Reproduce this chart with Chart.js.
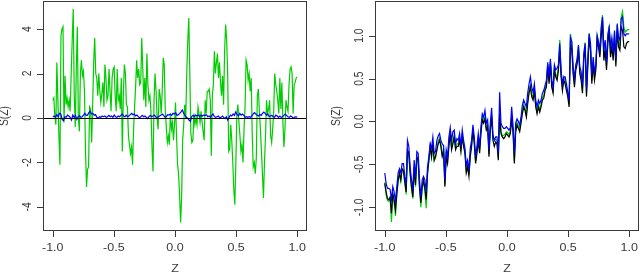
<!DOCTYPE html>
<html>
<head>
<meta charset="utf-8">
<script src="https://cdn.jsdelivr.net/npm/chart.js@4.4.0/dist/chart.umd.min.js"></script>
<style>
  html, body { margin: 0; padding: 0; background: #fff; }
  #wrap { position: relative; width: 640px; height: 273px; }
  canvas { position: absolute; top: 0; }
  #left { left: 0; }
  #right { left: 320px; }
</style>
</head>
<body>
<div id="wrap">
  <canvas id="left" width="320" height="273"></canvas>
  <canvas id="right" width="320" height="273"></canvas>
</div>
<script>
// tick labels
const xTicks = [-1.0, -0.5, 0.0, 0.5, 1.0];
const leftYTicks = [-4, -2, 0, 2, 4];
const rightYTicks = [-1.0, -0.5, 0.0, 0.5, 1.0];

// left panel: S(Z) on an even grid of Z from -1 to 1
const leftGreen = [
  0.8, 0.9, 0.1, -0.3, 2.5, 0.8, -0.8, -2.1, 3.7, 4.0,
  4.1, -0.2, 1.9, 0.6, 0.9, 0.5, 0.8, 0.3, 2.0, 3.5,
  4.9, 1.0, -0.4, 2.2, 4.1, 0.0, -0.6, 2.0, 2.6, 1.9,
  2.1, 1.2, -1.5, -3.1, -2.3, -2.2, 0.5, 0.4, -1.1, 0.6,
  2.5, 3.6, 2.0, 1.8, 1.0, 2.0, 1.2, 0.7, 1.1, 1.6,
  0.5, 2.4, 1.8, 0.8, 1.0, 2.2, 1.2, 0.3, 1.8, 2.2,
  2.3, 1.0, 0.3, 2.2, 0.8, 1.0, 0.4, 1.8, -1.5, 1.1,
  2.4, 2.0, 0.6, 0.5, -0.8, -1.2, -1.6, -1.3, -2.1, -0.5,
  0.5, 1.4, 2.6, 1.8, 2.2, 1.5, 1.6, 3.6, 2.2, 0.8,
  1.8, 0.5, 2.9, 1.5, 0.8, 1.0, 0.3, -1.3, -2.4, 0.8,
  2.0, 1.2, 0.0, -0.5, 1.3, 1.0, 0.2, 1.2, 2.7, 2.4,
  0.3, -0.4, -1.1, -0.8, -1.2, 0.2, -0.5, -0.2, -1.0, -0.3,
  0.7, -0.8, -2.1, -2.5, -3.5, -4.7, -3.5, -1.0, -0.3, 0.6,
  0.0, 2.0, 3.5, 4.5, 2.0, -0.7, -1.1, -1.0, 0.2, -0.3,
  0.0, -0.3, 0.5, 0.2, -0.2, 0.3, -0.2, -0.6, -1.0, 0.8,
  0.2, 1.2, 1.2, 1.3, 0.8, -1.7, 1.0, 1.5, 3.0, 2.0,
  2.5, 2.9, 1.8, 2.5, 1.6, 1.0, 1.9, 0.6, 3.0, 4.2,
  3.5, 2.0, -1.5, -1.4, -0.3, -1.0, -2.0, -3.2, -3.9, -2.0,
  0.2, 0.6, -0.2, -0.8, -1.5, -1.2, -2.0, -0.5, 0.5, 2.6,
  2.4, 1.7, 2.0, 1.2, 1.8, -0.7, -2.2, -2.0, -2.5, -1.8,
  1.0, 1.3, 0.3, -0.5, -1.5, -2.5, -3.6, -2.0, -0.8, 0.8,
  0.2, 0.4, 0.8, -0.8, -1.1, -0.5, 0.3, 2.0, 1.5, 1.2,
  0.8, 0.2, 1.8, 0.4, 1.6, -0.2, -1.3, -0.5, 0.8, 0.5,
  0.3, 1.5, 2.2, 2.3, 2.0, 0.2, 1.5, 1.6, 1.8, 1.85
];
const leftBlue = [
  0.06, 0.09, 0.03, 0.15, 0.06, 0.21, 0.18, -0.06, -0.12, 0.06,
  0.03, 0.13, 0.09, 0.03, -0.09, 0.13, 0.03, 0.12, -0.06, 0.06,
  0.10, 0.03, 0.06, 0.13, 0.21, 0.12, 0.13, 0.24, 0.30, 0.18,
  0.21, 0.12, 0.15, 0.03, -0.01, 0.06, 0.03, 0.09, 0.06, 0.09,
  0.03, 0.06, 0.12, 0.06, 0.09, 0.03, 0.13, 0.06, 0.03, 0.09,
  0.06, 0.12, 0.18, 0.09, 0.06, 0.13, 0.06, 0.09, 0.15, 0.21,
  0.15, 0.18, 0.09, 0.13, 0.06, 0.00, 0.06, 0.12, 0.06, 0.09,
  0.03, -0.03, 0.06, 0.12, 0.06, 0.09, 0.13, 0.06, -0.01, 0.06,
  0.09, 0.13, 0.18, 0.12, 0.03, 0.06, 0.15, 0.13, 0.18, 0.12,
  0.21, 0.18, 0.24, 0.12, 0.15, 0.21, 0.28, 0.36, 0.21, 0.12,
  0.03, -0.01, -0.09, -0.15, 0.06, 0.12, 0.06, 0.13, 0.10, 0.13,
  0.06, 0.12, 0.09, 0.13, 0.12, 0.15, 0.06, 0.09, 0.03, 0.12,
  0.18, 0.06, 0.03, 0.06, 0.09, 0.00, 0.03, 0.09, 0.03, -0.03,
  0.06, -0.09, 0.03, 0.13, 0.09, 0.18, 0.12, 0.27, 0.15, 0.09,
  0.21, 0.13, 0.18, 0.12, 0.03, 0.06, 0.03, 0.06, 0.03, 0.09,
  0.18, 0.24, 0.18, 0.12, 0.09, 0.16, 0.12, 0.21, 0.27, 0.21,
  0.13, 0.18, 0.06, 0.09, 0.12, 0.06, 0.03, 0.13, 0.09, 0.03,
  0.09, 0.03, 0.06, 0.12, 0.18, 0.12, 0.06, 0.03, 0.09, 0.06,
  -0.01, 0.03, 0.06, 0.03
];

// right panel: three estimates of S(Z)
const rightBlack = [
  -0.72, -0.82, -0.90, -0.91, -0.88, -1.07, -0.84, -0.91, -1.03, -0.84,
  -0.68, -0.60, -0.68, -0.55, -0.57, -0.70, -0.82, -0.33, -0.37, -0.60,
  -0.76, -0.88, -0.53, -0.74, -0.41, -0.45, -0.76, -0.95, -0.76, -0.68,
  -0.78, -0.91, -0.60, -0.45, -0.29, -0.41, -0.26, -0.45, -0.41, -0.33,
  -0.26, -0.22, -0.29, -0.41, -0.35, -0.76, -0.41, -0.49, -0.29, -0.14,
  -0.33, -0.26, -0.18, -0.33, -0.29, -0.29, -0.22, -0.35, -0.18, -0.29,
  -0.37, -0.60, -0.53, -0.64, -0.41, -0.29, -0.10, -0.26, -0.49, -0.37,
  -0.22, -0.37, -0.14, 0.02, -0.02, 0.03, -0.10, -0.06, -0.41, -0.10,
  0.05, -0.22, -0.29, -0.24, -0.26, -0.45, 0.09, -0.14, -0.18, -0.20,
  -0.18, -0.14, -0.16, -0.18, -0.14, 0.02, -0.12, -0.49, -0.12, -0.04,
  -0.08, -0.12, -0.02, 0.09, 0.17, 0.13, 0.05, 0.21, 0.33, 0.40,
  0.29, 0.25, 0.36, 0.17, 0.09, 0.17, 0.11, 0.17, 0.25, 0.27,
  0.36, 0.40, 0.64, 0.44, 0.67, 0.40, 0.33, 0.60, 0.52, 0.48,
  0.60, 0.83, 0.52, 0.36, 0.48, 0.44, 0.36, 0.29, 0.17, 0.91,
  0.83, 0.56, 0.40, 0.60, 0.67, 0.83, 0.56, 0.48, 0.33, 0.73,
  0.87, 0.29, 0.64, 0.98, 0.83, 0.44, 0.67, 0.48, 0.60, 0.95,
  0.87, 0.75, 0.98, 1.18, 0.71, 0.83, 0.60, 0.91, 1.06, 0.75,
  0.87, 0.71, 0.98, 0.64, 1.06, 0.87, 0.83, 1.10, 1.06, 0.87,
  0.85, 0.91, 0.93, 0.93
];
const rightBlue = [
  -0.60, -0.72, -0.78, -0.78, -0.79, -0.91, -0.76, -0.82, -0.93, -0.76,
  -0.60, -0.55, -0.60, -0.49, -0.49, -0.64, -0.74, -0.22, -0.29, -0.53,
  -0.68, -0.78, -0.45, -0.66, -0.35, -0.37, -0.68, -0.88, -0.68, -0.64,
  -0.68, -0.82, -0.53, -0.41, -0.26, -0.31, -0.18, -0.37, -0.35, -0.22,
  -0.17, -0.14, -0.22, -0.26, -0.28, -0.68, -0.33, -0.41, -0.18, -0.07,
  -0.22, -0.12, -0.10, -0.26, -0.20, -0.22, -0.14, -0.29, -0.10, -0.22,
  -0.31, -0.51, -0.45, -0.57, -0.31, -0.22, -0.04, -0.18, -0.41, -0.29,
  -0.14, -0.29, -0.06, 0.09, 0.05, 0.13, -0.02, 0.02, -0.33, -0.02,
  0.16, -0.16, -0.22, -0.18, -0.18, -0.37, 0.34, -0.02, -0.06, -0.08,
  -0.08, -0.06, -0.08, -0.10, -0.07, 0.17, -0.04, -0.37, -0.02, 0.03,
  0.00, -0.04, 0.05, 0.19, 0.25, 0.21, 0.17, 0.33, 0.44, 0.52,
  0.40, 0.34, 0.44, 0.25, 0.17, 0.25, 0.21, 0.25, 0.33, 0.36,
  0.42, 0.48, 0.69, 0.52, 0.73, 0.48, 0.40, 0.66, 0.60, 0.62,
  0.66, 0.91, 0.60, 0.44, 0.52, 0.52, 0.44, 0.34, 0.25, 0.98,
  0.93, 0.64, 0.50, 0.66, 0.73, 0.89, 0.64, 0.58, 0.42, 0.79,
  0.91, 0.38, 0.73, 1.02, 0.91, 0.54, 0.75, 0.58, 0.66, 1.00,
  0.93, 0.83, 1.10, 1.22, 0.83, 0.95, 0.69, 1.02, 1.10, 0.87,
  0.98, 0.81, 1.06, 0.73, 1.14, 0.98, 0.95, 1.20, 1.22, 1.02,
  1.00, 1.02, 1.02, 1.02
];
const rightGreen = [
  -0.71, -0.85, -0.92, -0.93, -0.90, -1.17, -0.86, -0.95, -1.10, -0.86,
  -0.70, -0.62, -0.70, -0.56, -0.58, -0.72, -0.85, -0.35, -0.39, -0.62,
  -0.78, -0.90, -0.55, -0.76, -0.43, -0.47, -0.78, -1.00, -0.78, -0.70,
  -0.80, -1.01, -0.62, -0.46, -0.30, -0.42, -0.27, -0.46, -0.42, -0.33,
  -0.23, -0.19, -0.26, -0.38, -0.32, -0.74, -0.38, -0.46, -0.26, -0.11,
  -0.30, -0.23, -0.15, -0.30, -0.26, -0.26, -0.19, -0.32, -0.15, -0.26,
  -0.34, -0.57, -0.50, -0.62, -0.38, -0.26, -0.07, -0.23, -0.46, -0.34,
  -0.19, -0.34, -0.11, 0.05, 0.01, 0.06, -0.07, -0.03, -0.38, -0.07,
  0.08, -0.19, -0.22, -0.21, -0.23, -0.42, 0.12, -0.11, -0.17, -0.16,
  -0.15, -0.12, -0.13, -0.15, -0.11, 0.05, -0.09, -0.46, -0.09, -0.01,
  -0.05, -0.09, 0.01, 0.12, 0.20, 0.16, 0.08, 0.24, 0.36, 0.43,
  0.32, 0.28, 0.39, 0.20, 0.12, 0.20, 0.14, 0.20, 0.28, 0.30,
  0.39, 0.43, 0.67, 0.47, 0.70, 0.43, 0.36, 0.63, 0.55, 0.51,
  0.64, 0.95, 0.56, 0.40, 0.52, 0.48, 0.40, 0.32, 0.20, 1.02,
  0.92, 0.60, 0.44, 0.64, 0.71, 0.88, 0.60, 0.52, 0.37, 0.77,
  0.92, 0.33, 0.68, 1.03, 0.88, 0.48, 0.71, 0.52, 0.64, 1.00,
  0.92, 0.79, 1.05, 1.24, 0.76, 0.88, 0.65, 0.96, 1.12, 0.80,
  0.92, 0.76, 1.04, 0.69, 1.12, 0.92, 0.88, 1.22, 1.28, 1.10,
  1.04, 1.06, 1.07, 1.07
];

const GREEN = '#00cd00';
const BLUE = '#0000ff';
const BLACK = '#000000';
const INK = '#3a3a3a';

// pair each value with its Z on the even grid seq(-1, 1)
function onGrid(values) {
  return values.map((v, i) => ({ x: -1 + 2 * i / (values.length - 1), y: v }));
}

function series(values, color) {
  return {
    data: onGrid(values),
    borderColor: color,
    borderWidth: 1.2,
    pointRadius: 0,
    tension: 0,
    fill: false
  };
}

// text in the picture is a little squashed vertically
function drawText(ctx, text, x, y, rot) {
  ctx.save();
  ctx.translate(x, y);
  ctx.scale(1, 0.82);
  if (rot) ctx.rotate(rot);
  ctx.fillText(text, 0, 0);
  ctx.restore();
}

// R style box, axes and labels
const rAxes = {
  id: 'rAxes',
  afterDatasetsDraw(chart, args, opts) {
    const { ctx, chartArea: a, scales: { x, y } } = chart;
    ctx.save();

    if (opts.zeroLine) {
      const py = Math.round(y.getPixelForValue(0)) + 0.5;
      ctx.strokeStyle = BLACK;
      ctx.lineWidth = 1.2;
      ctx.beginPath();
      ctx.moveTo(a.left, py);
      ctx.lineTo(a.right, py);
      ctx.stroke();
    }

    ctx.strokeStyle = INK;
    ctx.lineWidth = 1;
    ctx.strokeRect(a.left + 0.5, a.top + 0.5, a.right - a.left - 1, a.bottom - a.top - 1);

    ctx.fillStyle = INK;
    ctx.font = '12.5px "Liberation Sans", Arial, sans-serif';
    ctx.textAlign = 'center';
    ctx.textBaseline = 'middle';

    // x axis
    ctx.beginPath();
    opts.xTicks.forEach(v => {
      const px = Math.round(x.getPixelForValue(v)) + 0.5;
      ctx.moveTo(px, a.bottom - 1);
      ctx.lineTo(px, a.bottom + 6);
    });
    ctx.stroke();
    opts.xTicks.forEach(v => {
      drawText(ctx, v.toFixed(1), x.getPixelForValue(v), a.bottom + 17.5);
    });

    // y axis
    ctx.beginPath();
    opts.yTicks.forEach(v => {
      const py = Math.round(y.getPixelForValue(v)) + 0.5;
      ctx.moveTo(a.left - 6, py);
      ctx.lineTo(a.left + 1, py);
    });
    ctx.stroke();
    opts.yTicks.forEach(v => {
      drawText(ctx, v.toFixed(opts.yDigits), a.left - 15, y.getPixelForValue(v), -Math.PI / 2);
    });

    drawText(ctx, 'Z', (a.left + a.right) / 2, 269);
    drawText(ctx, 'S(Z)', a.left - 38, (a.top + a.bottom) / 2, -Math.PI / 2);

    ctx.restore();
  }
};

function makeChart(id, datasets, yMin, yMax, padding, axes) {
  return new Chart(document.getElementById(id).getContext('2d'), {
    type: 'line',
    data: { datasets: datasets },
    options: {
      responsive: false,
      animation: false,
      events: [],
      layout: { padding: padding },
      scales: {
        x: { type: 'linear', min: -1.08, max: 1.08, display: false },
        y: { type: 'linear', min: yMin, max: yMax, display: false }
      },
      plugins: {
        legend: { display: false },
        tooltip: { enabled: false },
        rAxes: axes
      }
    },
    plugins: [rAxes]
  });
}

makeChart('left',
  [series(leftBlue, BLUE), series(leftGreen, GREEN)],
  -5.08, 5.26,
  { left: 43, right: 13, top: 1, bottom: 42 },
  { xTicks: xTicks, yTicks: leftYTicks, yDigits: 0, zeroLine: true });

makeChart('right',
  [series(rightBlue, BLUE), series(rightBlack, BLACK), series(rightGreen, GREEN)],
  -1.276, 1.404,
  { left: 55, right: 1, top: 1, bottom: 42 },
  { xTicks: xTicks, yTicks: rightYTicks, yDigits: 1, zeroLine: false });
</script>
</body>
</html>
